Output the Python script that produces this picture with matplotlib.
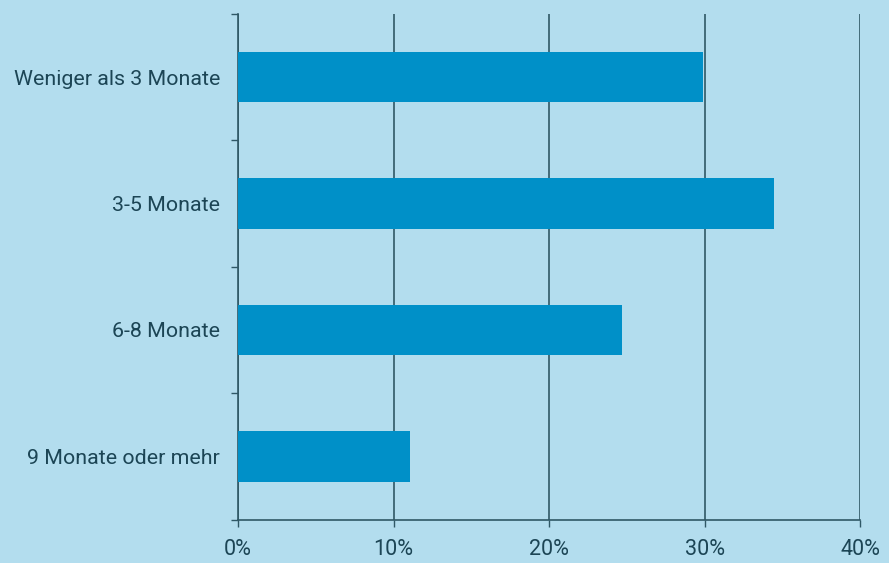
import matplotlib
matplotlib.use("Agg")
import matplotlib.pyplot as plt
import numpy as np
from matplotlib.ticker import FixedLocator, PercentFormatter

categories = ["Weniger als 3 Monate", "3-5 Monate", "6-8 Monate", "9 Monate oder mehr"]
values = [29.9, 34.5, 24.7, 11.05]
xticks = [0, 10, 20, 30, 40]

bg = "#b3ddee"
bar_color = "#0090c8"
line_color = "#2f5866"
text_color = "#1c4555"

plt.rcParams["font.family"] = ["Roboto", "DejaVu Sans"]

fig = plt.figure(figsize=(8.89, 5.63), dpi=100, facecolor=bg)
ax = fig.add_axes([238 / 889, 1 - 519.5 / 563, 622 / 889, 505.5 / 563])
ax.set_facecolor(bg)

y = np.arange(len(categories))
ax.barh(y, values, height=0.4, color=bar_color, zorder=3)
ax.set_ylim(len(categories) - 0.5, -0.5)
ax.set_xlim(0, 40)

ax.set_xticks(xticks)
ax.xaxis.set_major_formatter(PercentFormatter(decimals=0))
ax.grid(axis="x", color=line_color, linewidth=1.2, zorder=1)

ax.set_yticks(y)
ax.set_yticklabels(categories)
ax.yaxis.set_minor_locator(FixedLocator(np.arange(-0.5, len(categories), 1.0)))
ax.tick_params(axis="y", which="major", length=0, pad=13, labelsize=15.4, labelcolor=text_color)
ax.tick_params(axis="y", which="minor", length=5, width=1, color=line_color)
ax.tick_params(axis="x", length=5, width=1, color=line_color, pad=9, labelsize=15.5, labelcolor=text_color)

for s in ["top", "right"]:
    ax.spines[s].set_visible(False)
for s in ["left", "bottom"]:
    ax.spines[s].set_color(line_color)
    ax.spines[s].set_linewidth(1.2)

fig.savefig("out.png", dpi=100, facecolor=bg)
